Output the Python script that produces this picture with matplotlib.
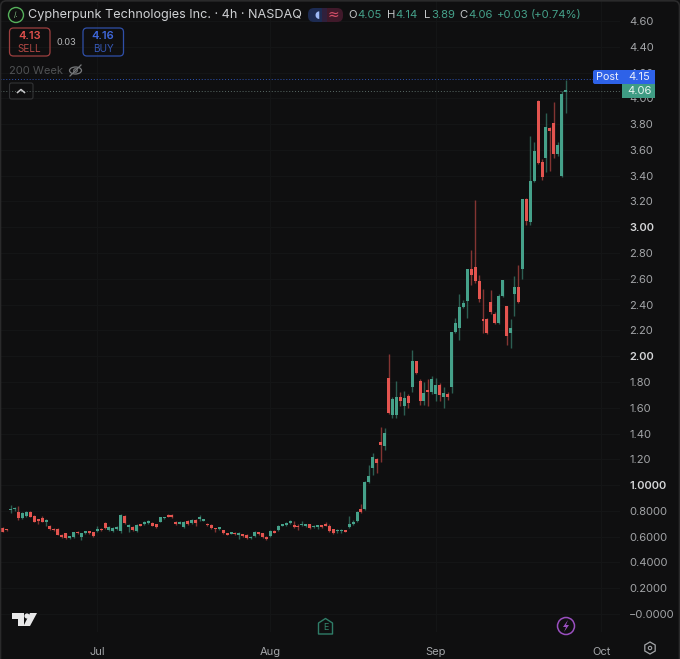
import matplotlib
matplotlib.use("Agg")
import matplotlib.pyplot as plt
from matplotlib.patches import Circle, Ellipse, FancyBboxPatch, Polygon, Rectangle, RegularPolygon

# velas 4h, de izquierda a derecha
opens = [
    .664, .657, .803, .812, .794, .747, .763, .794, .763, .737,
    .742, .711, .682, .659, .657, .613, .626, .590, .595, .639,
    .600, .629, .631, .633, .644, .659, .703, .651, .646, .659,
    .644, .763, .675, .672, .646, .698, .695, .706, .703, .695,
    .716, .742, .768, .768, .716, .700, .672, .724, .703, .729,
    .738, .724, .700, .690, .661, .662, .651, .626, .623, .631,
    .616, .610, .613, .587, .608, .633, .626, .600, .605, .646,
    .651, .685, .690, .703, .690, .685, .688, .683, .695, .672,
    .678, .680, .695, .685, .657, .642, .642, .642,
    .675, .70, .72, .815, .815, 1.025, 1.135, 1.205, 1.335, 1.30,
    1.83, 1.54, 1.54, 1.685, 1.61, 1.69, 1.76, 1.96, 1.81, 1.65,
    1.735, 1.725, 1.71, 1.78, 1.685, 1.71, 1.76, 2.19, 2.22, 2.38,
    2.43, 2.68, 2.69, 2.58, 2.285, 2.29, 2.42, 2.33, 2.26, 2.47,
    2.39, 2.18, 2.48, 2.54, 2.68, 3.22, 3.04, 3.36, 3.98, 3.51,
    3.54, 3.77, 3.81, 3.57, 3.40, 4.05,
]
highs = [
    .672, .660, .845, .830, .840, .790, .800, .800, .770, .740,
    .760, .735, .690, .665, .665, .620, .630, .600, .640, .645,
    .630, .640, .640, .640, .680, .665, .710, .680, .675, .685,
    .775, .770, .700, .680, .695, .700, .725, .730, .710, .700,
    .755, .755, .775, .775, .720, .720, .725, .730, .735, .735,
    .768, .740, .705, .695, .670, .675, .655, .630, .640, .635,
    .635, .620, .620, .605, .645, .640, .630, .605, .650, .650,
    .690, .695, .715, .730, .720, .695, .720, .700, .700, .690,
    .690, .690, .710, .695, .660, .660, .660, .650,
    .76, .73, .80, .85, 1.03, 1.155, 1.25, 1.21, 1.45, 1.44,
    2.02, 1.68, 1.81, 1.72, 1.73, 1.71, 2.05, 1.96, 1.82, 1.80,
    1.82, 1.85, 1.83, 1.79, 1.76, 1.72, 2.19, 2.30, 2.48, 2.435,
    2.68, 2.82, 3.21, 2.63, 2.52, 2.30, 2.51, 2.34, 2.48, 2.59,
    2.39, 2.29, 2.62, 2.71, 3.22, 3.23, 3.71, 3.66, 3.99, 3.53,
    3.89, 3.78, 3.97, 3.66, 4.06, 4.14,
]
lows = [
    .635, .645, .781, .800, .729, .740, .755, .750, .710, .700,
    .710, .680, .655, .645, .610, .590, .580, .580, .590, .620,
    .575, .620, .620, .600, .640, .645, .660, .645, .640, .655,
    .630, .700, .640, .645, .640, .680, .690, .700, .680, .670,
    .710, .735, .750, .745, .690, .695, .665, .690, .695, .680,
    .720, .720, .685, .660, .640, .655, .620, .610, .620, .615,
    .585, .600, .585, .580, .600, .615, .590, .575, .600, .625,
    .645, .680, .685, .700, .670, .650, .680, .675, .660, .665,
    .660, .670, .680, .640, .620, .625, .630, .635,
    .67, .69, .71, .78, .81, 1.015, 1.08, 1.09, 1.18, 1.27,
    1.55, 1.52, 1.52, 1.61, 1.54, 1.60, 1.72, 1.86, 1.62, 1.62,
    1.61, 1.71, 1.65, 1.65, 1.60, 1.66, 1.715, 2.18, 2.125, 2.37,
    2.30, 2.55, 2.57, 2.42, 2.18, 2.17, 2.33, 2.25, 2.25, 2.46,
    2.09, 2.06, 2.31, 2.41, 2.60, 3.02, 3.02, 3.35, 3.49, 3.37,
    3.43, 3.44, 3.54, 3.55, 3.39, 3.89,
]
closes = [
    .640, .651, .811, .818, .747, .781, .794, .755, .716, .721,
    .716, .729, .659, .651, .613, .600, .592, .594, .633, .626,
    .626, .632, .629, .608, .659, .649, .664, .672, .669, .677,
    .768, .708, .679, .651, .690, .685, .716, .716, .685, .677,
    .750, .747, .755, .750, .698, .715, .716, .698, .729, .703,
    .745, .737, .690, .664, .657, .668, .626, .613, .633, .618,
    .620, .606, .592, .600, .639, .618, .595, .579, .646, .631,
    .685, .690, .703, .724, .675, .672, .692, .687, .664, .685,
    .683, .675, .685, .644, .626, .646, .646, .638,
    .70, .715, .79, .79, 1.025, 1.07, 1.22, 1.175, 1.31, 1.405,
    1.56, 1.67, 1.685, 1.65, 1.675, 1.64, 1.965, 1.87, 1.65, 1.715,
    1.725, 1.82, 1.78, 1.70, 1.715, 1.68, 2.19, 2.26, 2.38, 2.41,
    2.68, 2.63, 2.58, 2.44, 2.275, 2.18, 2.345, 2.26, 2.47, 2.59,
    2.16, 2.22, 2.54, 2.42, 3.22, 3.05, 3.36, 3.59, 3.50, 3.39,
    3.78, 3.75, 3.57, 3.64, 4.03, 4.06,
]

price_ticks = [4.6, 4.4, 4.2, 4.0, 3.8, 3.6, 3.4, 3.2, 3.0, 2.8, 2.6, 2.4, 2.2,
               2.0, 1.8, 1.6, 1.4, 1.2, 1.0, 0.8, 0.6, 0.4, 0.2, 0.0]
price_labels = ["4.60", "4.40", "4.20", "4.00", "3.80", "3.60", "3.40", "3.20", "3.00",
                "2.80", "2.60", "2.40", "2.20", "2.00", "1.80", "1.60", "1.40", "1.20",
                "1.0000", "0.8000", "0.6000", "0.4000", "0.2000", "\u22120.0000"]
strong_labels = ["3.00", "2.00", "1.0000"]
month_pos = [24, 67.9, 110, 152]
month_labels = ["Jul", "Aug", "Sep", "Oct"]
last_price = 4.06
post_price = 4.15

BG = "#0f0f10"
GRID = "#151617"
UP = "#45a18a"
DOWN = "#e4544f"
FONT = ["Inter", "DejaVu Sans"]

plt.rcParams["font.family"] = FONT

fig = plt.figure(figsize=(6.8, 6.59), dpi=100, facecolor=BG)
ax = fig.add_axes([0, 27 / 659, 620 / 680, 632 / 659], facecolor=BG)

# velas
idx = list(range(len(opens)))
colors = [UP if c >= o else DOWN for o, c in zip(opens, closes)]
ax.vlines(idx, lows, highs, colors=colors, linewidth=1.0, alpha=0.55, zorder=3)
bottoms = [min(o, c) for o, c in zip(opens, closes)]
heights = [max(abs(c - o), 0.012) for o, c in zip(opens, closes)]
ax.bar(idx, heights, bottom=bottoms, width=0.76, color=colors, linewidth=0, zorder=4)

ax.axhline(post_price, color="#2d54b8", lw=0.7, ls=(0, (1, 2)), zorder=2)
ax.axhline(last_price, color="#5a6b66", lw=0.7, ls=(0, (1, 2)), zorder=2)

ax.set_xlim(-0.686, 156.8)
ax.set_ylim(-0.1396, 4.763)
ax.set_xticks(month_pos, month_labels)
ax.set_yticks(price_ticks, price_labels)
ax.yaxis.tick_right()
ax.tick_params(axis="both", length=0, labelsize=8, labelcolor="#a3a5a8")
ax.tick_params(axis="x", pad=11)
ax.tick_params(axis="y", pad=6.5)
for lab in ax.get_yticklabels():
    if lab.get_text() in strong_labels:
        lab.set_color("#d5d6d8")
        lab.set_fontweight("semibold")
ax.grid(True, color=GRID, lw=0.7)
ax.set_axisbelow(True)
for s in ax.spines.values():
    s.set_visible(False)

# capa en pixeles para la interfaz de TradingView
ui = fig.add_axes([0, 0, 1, 1], facecolor="none", zorder=5)
ui.set_xlim(0, 680)
ui.set_ylim(659, 0)
ui.axis("off")


def box(x0, y0, x1, y1, fc="none", ec="none", r=2, lw=0.9):
    ui.add_patch(FancyBboxPatch((x0 + r, y0 + r), x1 - x0 - 2 * r, y1 - y0 - 2 * r,
                                boxstyle=f"round,pad={r},rounding_size={r}",
                                fc=fc, ec=ec, lw=lw, mutation_aspect=1))


def label(x, y, s, color, size=8, ha="left", **kw):
    ui.text(x, y, s, color=color, fontsize=size, ha=ha, va="center", **kw)


# borde de la ventana
box(0.5, 0.8, 679.5, 700, ec="#2a2a2b", r=6, lw=1.2)

# cabecera
ui.add_patch(Circle((16, 15), 7.5, fc="none", ec="#55b05a", lw=1))
label(16, 15, "/.", "#8fd08f", size=5, ha="center")
label(28, 15, "Cypherpunk Technologies Inc. \u00b7 4h \u00b7 NASDAQ", "#cfd1d4", size=9.1)

box(308, 8, 327, 22, fc="#1d2b52", r=6)
box(322, 8, 343, 22, fc="#40192a", r=6)
ui.add_patch(Rectangle((322, 8), 5, 14, fc="#30203c"))
label(317, 15, "\u25d6", "#9db8f5", size=7, ha="center", family="DejaVu Sans")
label(333, 15, "\u2248", "#d8506a", size=10, ha="center", family="DejaVu Sans")

for x, s, col in [(348, "O", "#c4c6c8"), (357, "4.05", UP), (387, "H", "#c4c6c8"), (395, "4.14", UP),
                  (424, "L", "#c4c6c8"), (431, "3.89", UP), (459, "C", "#c4c6c8"), (468, "4.06", UP),
                  (497, "+0.03", UP), (531, "(+0.74%)", UP)]:
    label(x, 15, s, col, size=8.15)

# sell / buy
box(9.5, 28, 50, 56, ec="#9c3f3f", r=4)
label(29.5, 36, "4.13", "#e0504c", size=8, ha="center", fontweight="semibold")
label(29.5, 48.5, "SELL", "#b04844", size=7.2, ha="center")
label(66, 42.5, "0.03", "#b4b6b8", size=6.6, ha="center")
box(83, 28, 123.5, 56, ec="#2f4fa8", r=4)
label(103, 36, "4.16", "#3f68dc", size=8, ha="center", fontweight="semibold")
label(103, 48.5, "BUY", "#3557b4", size=7.2, ha="center")

label(9, 70.5, "200 Week", "#505254", size=8)
ui.add_patch(Ellipse((75.5, 70.5), 12, 7, fc="none", ec="#77797b", lw=0.9))
ui.add_patch(Circle((75.5, 70.5), 1.8, fc="none", ec="#77797b", lw=0.8))
ui.plot([70, 81], [76, 65], color="#77797b", lw=0.9)

box(9.5, 83, 33, 99, ec="#323335", r=2, lw=0.8)
ui.plot([17.5, 21, 24.5], [92.5, 89.5, 92.5], color="#c8c9cb", lw=1.1)

# etiquetas de precio
box(593, 70, 626, 84, fc="#2e62e8", r=2)
ui.add_patch(Rectangle((622, 70), 33, 14, fc="#2e62e8"))
label(607, 77, "Post", "#e8edfb", size=7.8, ha="center")
label(639, 77, "4.15", "#e8edfb", size=8, ha="center")
ui.add_patch(Rectangle((622, 84), 33, 14, fc="#3f9c84"))
label(639, 91, "4.06", "#e9f5f1", size=8, ha="center")

# logo TV
ui.add_patch(Polygon([(12, 613), (24, 613), (24, 626), (18, 626), (18, 619), (12, 619)], fc="#e8e8e9"))
ui.add_patch(Circle((27, 616), 2.6, fc="#e8e8e9"))
ui.add_patch(Polygon([(30, 613), (37, 613), (30, 626), (23.5, 626)], fc="#e8e8e9"))

# marcador E
ui.add_patch(Polygon([(318.5, 623), (325.5, 618.5), (332.5, 623), (332.5, 634), (318.5, 634)],
                     fc="none", ec="#2f7d68", lw=1, joinstyle="round"))
label(325.5, 627.5, "E", "#35896f", size=6.5, ha="center")

# marcador rayo
ui.add_patch(Circle((566, 626), 8.5, fc="none", ec="#9a4fc0", lw=1.1))
ui.add_patch(Polygon([(568, 620), (563, 627), (566, 627), (564, 632), (569, 625), (566, 625)], fc="#9a4fc0"))

# ajustes
ui.add_patch(RegularPolygon((650, 648), 6, radius=6, fc="none", ec="#a3a5a8", lw=0.9))
ui.add_patch(Circle((650, 648), 1.7, fc="none", ec="#a3a5a8", lw=0.8))

fig.savefig("out.png", dpi=100, facecolor=BG)
